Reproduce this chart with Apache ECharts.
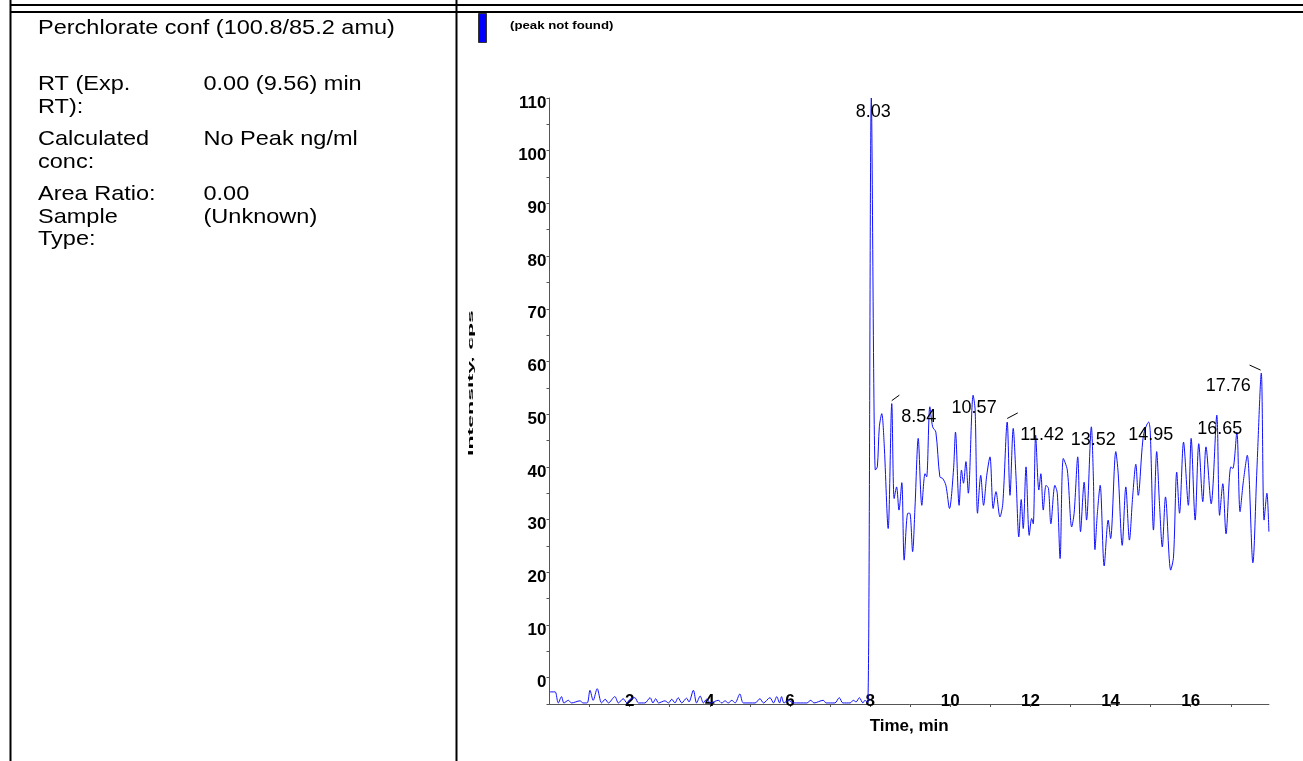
<!DOCTYPE html>
<html><head><meta charset="utf-8">
<script src="https://cdn.jsdelivr.net/npm/echarts@6/dist/echarts.min.js"></script>
<style>html,body{margin:0;padding:0;background:#fff}#c{width:1303px;height:761px}</style>
</head><body><div id="c"></div>
<script>
// ---- data ----
const times = [
  0.01,0.14,0.16,0.22,0.30,0.36,0.47,0.55,0.76,0.84,0.94,1.01,1.09,1.19,1.30,1.39,1.47,1.63,1.72,1.84,1.93,2.01,2.13,2.22,
  2.38,2.51,2.58,2.65,2.72,2.88,2.97,3.05,3.13,3.21,3.30,3.42,3.48,3.59,3.67,3.76,3.84,3.92,4.02,4.21,4.30,4.38,4.46,4.55,
  4.63,4.75,4.84,5.13,5.25,5.34,5.50,5.59,5.67,5.74,5.79,5.85,5.96,6.09,6.42,6.52,6.60,6.83,6.90,7.12,7.23,7.32,7.50,7.58,
  7.65,7.73,7.82,7.87,7.94,
  8.03,8.13,8.18,8.23,8.29,8.35,8.45,8.54,8.60,8.66,8.72,8.79,8.85,8.94,8.99,9.06,9.12,9.20,9.29,9.37,9.41,9.49,9.56,9.64,
  9.74,9.81,9.89,9.98,10.08,10.13,10.22,10.28,10.33,10.39,10.45,10.57,10.62,10.68,10.76,10.83,10.91,10.99,11.07,11.14,11.24,
  11.31,11.42,11.49,11.57,11.64,11.71,11.77,11.82,11.89,11.97,12.03,12.07,12.13,12.21,12.26,12.32,12.39,12.45,12.51,12.61,
  12.67,12.74,12.82,12.92,13.03,13.09,13.18,13.25,13.34,13.40,13.52,13.57,13.61,13.67,13.74,13.84,13.94,14.00,14.13,14.19,
  14.29,14.38,14.47,14.55,14.63,14.69,14.82,14.95,14.99,15.07,15.15,15.22,15.29,15.37,15.50,15.57,15.65,15.72,15.82,15.94,
  16.01,16.11,16.20,16.30,16.38,16.51,16.65,16.72,16.80,16.88,17.00,17.05,17.15,17.23,17.31,17.41,17.55,17.65,17.76,17.83,
  17.90,17.95
];
const intensity = [
  -2.7,-2.7,-2.9,-4.8,-3.6,-4.8,-4.3,-4.8,-4.4,-4.8,-4.8,-2.4,-4.3,-2.1,-4.8,-4.1,-4.8,-3.6,-4.8,-4.0,-4.8,-4.1,-3.8,-4.8,
  -4.8,-3.8,-4.8,-4.0,-4.8,-4.4,-4.8,-4.1,-4.8,-3.8,-4.8,-3.9,-4.6,-2.4,-4.8,-3.5,-4.8,-4.1,-4.8,-4.3,-4.8,-4.4,-4.8,-4.3,
  -4.8,-3.1,-4.8,-4.8,-4.0,-4.8,-3.8,-4.8,-3.6,-4.8,-3.6,-4.8,-4.3,-4.8,-4.8,-4.3,-4.8,-4.3,-4.8,-4.8,-3.8,-4.8,-4.8,-4.3,
  -4.6,-3.8,-4.8,-4.3,-4.8,
  110,39.4,40.0,47.6,50.1,44.4,28.3,52.0,34.0,36.2,31.8,37.0,22.3,31.2,31.2,23.9,32.4,45.4,32.7,38.7,38.1,51.4,47.6,46.6,
  38.1,37.8,36.5,32.1,39.4,46.6,32.7,39.4,36.9,41.0,35.0,53.6,50.8,31.2,38.4,32.7,38.4,41.9,32.1,35.3,30.5,
  33.0,48.5,34.6,47.3,38.1,26.7,33.8,28.3,40.0,27.0,30.2,29.2,46.0,35.6,38.7,31.8,36.5,35.9,29.2,36.5,
  35.0,22.6,41.6,39.4,28.6,31.2,41.9,27.7,37.1,29.9,47.6,38.1,24.3,31.2,36.5,21.2,29.9,26.4,42.9,38.7,
  25.1,36.2,26.1,34.3,40.5,34.6,46.0,48.5,46.6,28.0,42.9,33.0,24.8,34.3,20.4,22.9,39.0,31.2,44.7,32.7,
  45.4,29.9,44.4,33.4,43.8,33.0,49.8,30.8,36.8,27.3,40.0,39.7,46.6,31.5,37.1,42.2,21.8,39.4,57.8,29.9,
  35.0,27.7
];
const peakLabels = ['8.03','8.54','10.57','11.42','13.52','14.95','16.65','17.76'];
const peakTimes  = [8.03, 8.54, 10.57, 11.42, 13.52, 14.95, 16.65, 17.76];
const peakValues = [110, 52.0, 53.6, 48.5, 47.6, 48.5, 49.8, 57.8];

const panelLabels = ['Perchlorate conf (100.8/85.2 amu)','RT (Exp.','RT):','Calculated','conc:','Area Ratio:','Sample','Type:'];
const panelValues = ['0.00 (9.56) min','No Peak ng/ml','0.00','(Unknown)'];
const headerNote = '(peak not found)';
const xAxisTitle = 'Time, min';
const yAxisTitle = 'Intensity, cps';

// ---- layout / style ----
const FONT = '"Liberation Sans", Arial, sans-serif';
const labelBaselines = [35.5, 91.7, 115, 146.7, 170, 201.7, 225, 246.7];
const valueBaselines = [91.7, 146.7, 201.7, 225];
const peakLabelOffsets = [[2,14],[27,13],[1,13],[35,13],[2,13],[2,13],[3,14],[-33,13]];
const peakLeaders = {1: [[0,-3],[7.6,-8.5]], 3: [[0,-3.6],[10.6,-9.2]], 7: [[-11.7,-8],[-0.7,-3]]};

const chart = echarts.init(document.getElementById('c'), null, {renderer: 'canvas'});

const panelFont = '21px ' + FONT;
const graphics = [];
const line = (x1,y1,x2,y2,w) => ({type:'line', silent:true, shape:{x1,y1,x2,y2}, style:{stroke:'#000', lineWidth:w}});
graphics.push(line(10, 5, 1303, 5, 2));
graphics.push(line(10, 12, 1303, 12, 2));
graphics.push(line(10.5, 0, 10.5, 761, 2));
graphics.push(line(456.5, 0, 456.5, 761, 2));
panelLabels.forEach((t, i) => graphics.push({type:'text', x:38, y:labelBaselines[i] - 7.3, scaleX:1.12,
  style:{text:t, font:panelFont, fill:'#000', align:'left', verticalAlign:'middle'}}));
panelValues.forEach((t, i) => graphics.push({type:'text', x:203.5, y:valueBaselines[i] - 7.3, scaleX:1.12,
  style:{text:t, font:panelFont, fill:'#000', align:'left', verticalAlign:'middle'}}));
graphics.push({type:'rect', shape:{x:478.5, y:13.5, width:8, height:29}, style:{fill:'#0000ff', stroke:'#333', lineWidth:1}});
graphics.push({type:'text', x:510, y:26, scaleX:1.2, style:{text:headerNote, font:'bold 11px ' + FONT, fill:'#000', align:'left', verticalAlign:'middle'}});
graphics.push({type:'text', x:471, y:383, rotation:Math.PI/2, scaleX:2.1, scaleY:0.6,
  style:{text:yAxisTitle, font:'bold 11px ' + FONT, fill:'#000', align:'center', verticalAlign:'middle'}});

const axisFont = {fontFamily: FONT, fontWeight:'bold', fontSize:17, color:'#000'};

chart.setOption({
  animation: false,
  backgroundColor: '#fff',
  grid: {left: 549.5, right: 34.1, top: 98, bottom: 57, containLabel: false},
  xAxis: {
    type: 'value', min: 0, max: 17.95, interval: 1,
    name: xAxisTitle, nameLocation: 'middle', nameGap: 14,
    nameTextStyle: {fontFamily: FONT, fontWeight: 'bold', fontSize: 17, color: '#000'},
    axisLine: {onZero: false, lineStyle: {color: '#555', width: 1}},
    axisTick: {show: true, length: 3, lineStyle: {color: '#555'}},
    splitLine: {show: false},
    axisLabel: Object.assign({margin: -11, lineHeight: 16, showMaxLabel: false, showMinLabel: false,
      formatter: v => (v > 0 && Math.abs(v % 2) < 1e-6) ? String(v) : ''}, axisFont)
  },
  yAxis: {
    type: 'value', min: -5, max: 110, interval: 5,
    axisLine: {show: true, onZero: false, lineStyle: {color: '#555', width: 1}},
    axisTick: {show: true, length: 3, lineStyle: {color: '#555'}},
    splitLine: {show: false},
    axisLabel: Object.assign({margin: 3, verticalAlign: 'top', lineHeight: 10,
      formatter: v => (v >= 0 && Math.abs(v % 10) < 1e-6) ? String(v) : ''}, axisFont)
  },
  graphic: graphics,
  series: [
    {
      type: 'line', data: times.map((t, i) => [t, intensity[i]]),
      symbol: 'none', smooth: 0.3, lineStyle: {color: '#1010ff', width: 1}, z: 3
    },
    {
      type: 'custom', clip: false, z: 5,
      data: peakTimes.map((t, i) => [t, peakValues[i]]),
      renderItem: (params, api) => {
        const i = params.dataIndex;
        const p = api.coord([api.value(0), api.value(1)]);
        const o = peakLabelOffsets[i];
        const children = [{type: 'text', x: p[0] + o[0], y: p[1] + o[1],
          style: {text: peakLabels[i], font: '18px ' + FONT, fill: '#000', align: 'center', verticalAlign: 'middle'}}];
        const ld = peakLeaders[i];
        if (ld) children.push({type: 'line', shape: {x1: p[0] + ld[0][0], y1: p[1] + ld[0][1], x2: p[0] + ld[1][0], y2: p[1] + ld[1][1]},
          style: {stroke: '#000', lineWidth: 1}});
        return {type: 'group', children};
      }
    }
  ]
});
</script></body></html>
